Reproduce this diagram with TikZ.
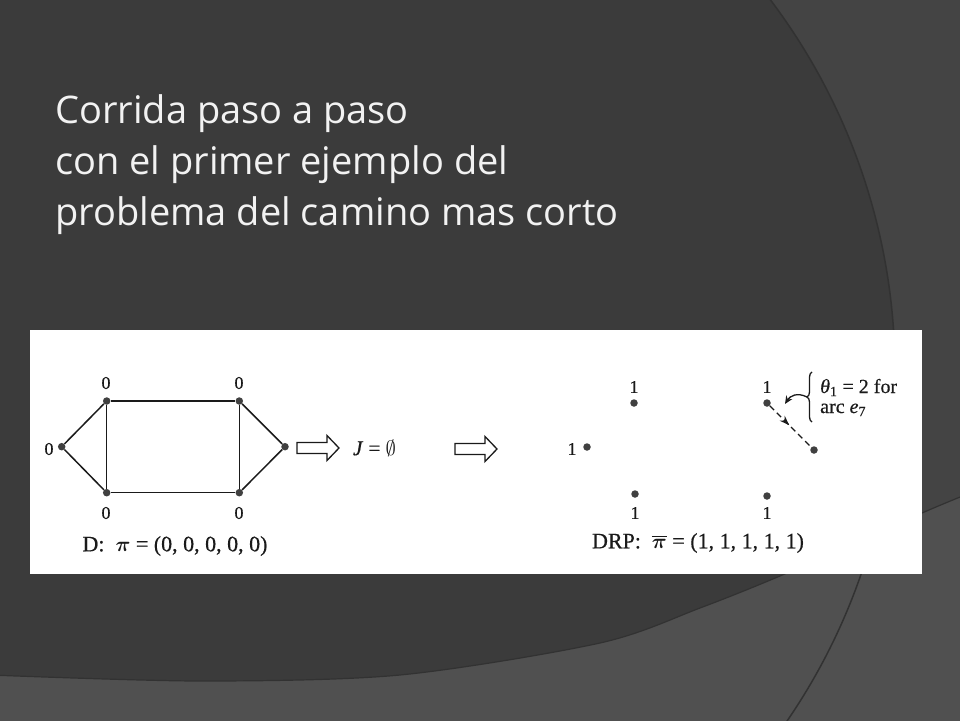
\documentclass[tikz,border=0pt]{standalone}
\usepackage{amsmath}
\usepackage{fontspec}
\setmainfont[FakeBold=0.5]{Liberation Serif}
\newfontfamily\titlefont{Open Sans}
\usetikzlibrary{arrows.meta,decorations.markings,decorations.pathreplacing}
\definecolor{bgbase}{HTML}{3B3B3B}
\definecolor{bgband}{HTML}{444444}
\definecolor{bgbottom}{HTML}{505050}
\definecolor{bgline}{HTML}{323232}
\definecolor{dotcol}{HTML}{404040}
\definecolor{ink}{HTML}{1A1A1A}
\begin{document}
\begin{tikzpicture}[x=1pt,y=-1pt,
  vdot/.style={circle,fill=dotcol,inner sep=0pt,minimum size=7.5pt},
  edge/.style={line width=1.5pt,draw=ink},
  lab/.style={font=\fontsize{18}{20}\selectfont,text=ink,inner sep=0pt},
  captext/.style={font=\fontsize{22}{24}\selectfont,text=ink,inner sep=0pt},
  note/.style={font=\fontsize{20}{22}\selectfont,text=ink,inner sep=0pt,anchor=base west},
  ttl/.style={font=\titlefont\fontsize{38}{44}\selectfont,text=white!95!black,anchor=base west,inner sep=0pt},
  blockarr/.pic={\draw[line width=1.3pt,draw=ink,fill=white] (0,-5.5) -- (30,-5.5) -- (30,-12.5) -- (42,0) -- (30,12.5) -- (30,5.5) -- (0,5.5) -- cycle;}
]
\useasboundingbox (0,0) rectangle (960,720);
% background
\fill[bgbase] (0,0) rectangle (960,720);
\begin{scope}
\clip (0,0) rectangle (960,720);
\fill[bgband] (277,372) ++(-40:618) arc[start angle=-40,end angle=40,radius=618] -- (1000,800) -- (1000,-100) -- cycle;
\fill[bgbottom] plot[smooth] coordinates {(-10,675) (200,681) (400,675) (600,643) (700,608) (787,573) (922,513) (975,491)} -- (975,730) -- (-10,730) -- cycle;
\draw[bgline,line width=1.5pt] (277,372) ++(-40:618) arc[start angle=-40,end angle=40,radius=618];
\draw[bgline,line width=1.2pt] plot[smooth] coordinates {(-10,675) (200,681) (400,675) (600,643) (700,608) (787,573) (922,513) (975,491)};
\end{scope}
% title
\node[ttl] (t1) at (55,123) {Corrida paso a paso};
\node[ttl] (t2) at (55,174) {con el primer ejemplo del};
\node[ttl] (t3) at (55,225) {problema del camino mas corto};
% white panel
\fill[white] (30,330) rectangle (922,574);
% left graph D
\node[vdot] (vL) at (61.7,446.7) {};
\node[vdot] (vTL) at (106.7,401) {};
\node[vdot] (vTR) at (239.3,401) {};
\node[vdot] (vBL) at (106.7,492.7) {};
\node[vdot] (vBR) at (239.3,492.7) {};
\node[vdot] (vR) at (285,446.7) {};
\draw[edge] (vL) -- (vTL);
\draw[edge] (vTL) -- (vTR);
\draw[edge] (vTR) -- (vR);
\draw[edge] (vR) -- (vBR);
\draw[edge] (vBR) -- (vBL);
\draw[edge] (vBL) -- (vL);
\draw[edge] (vTL) -- (vBL);
\draw[edge] (vTR) -- (vBR);
\node[lab] (l0a) at (106,383) {0};
\node[lab] (l0b) at (239,383) {0};
\node[lab] (l0c) at (106,513) {0};
\node[lab] (l0d) at (239,513) {0};
\node[lab] (l0e) at (49,449) {0};
\node[captext] (capD) at (175,546) {D:\ \ $\boldsymbol{\pi}$ = (0, 0, 0, 0, 0)};
% arrows and J
\pic at (297,448) {blockarr};
\node[captext,font=\fontsize{21}{24}\selectfont] (jset) at (374.5,448) {\textit{J} = $\emptyset$};
\pic at (455,449) {blockarr};
% right: DRP
\node[vdot] (wL) at (587,447) {};
\node[vdot] (wTL) at (634,403) {};
\node[vdot] (wTR) at (767,403) {};
\node[vdot] (wR) at (814,450) {};
\node[vdot] (wBL) at (635,494) {};
\node[vdot] (wBR) at (767,496) {};
\node[lab] (l1a) at (572,449) {1};
\node[lab] (l1b) at (634,387) {1};
\node[lab] (l1c) at (767,387) {1};
\node[lab] (l1d) at (635,513) {1};
\node[lab] (l1e) at (767,513) {1};
\draw[ink,line width=1.4pt,dash pattern=on 6pt off 4pt,postaction={decorate},
  decoration={markings,mark=at position 0.47 with {\arrow{Stealth[length=10pt,width=7pt]}}}] (wTR) -- (wR);
\node[captext] (capR) at (698,543) {DRP:\ \ $\overline{\boldsymbol{\pi}}$ = (1, 1, 1, 1, 1)};
% annotation
\draw[ink,line width=1.3pt,decorate,decoration={brace,amplitude=5pt}] (812,422) -- (812,372);
\coordinate (btip) at (807,397);
\coordinate (atip) at (785,404);
\draw[ink,line width=1.3pt,-{Stealth[length=8pt,width=7pt]}] (btip) .. controls (797,392) and (790,396) .. (atip);
\node[note] (n1) at (820,393) {\textit{θ}\textsubscript{1} = 2 for};
\node[note] (n2) at (820,413) {arc \textit{e}\textsubscript{7}};
\end{tikzpicture}
\end{document}
